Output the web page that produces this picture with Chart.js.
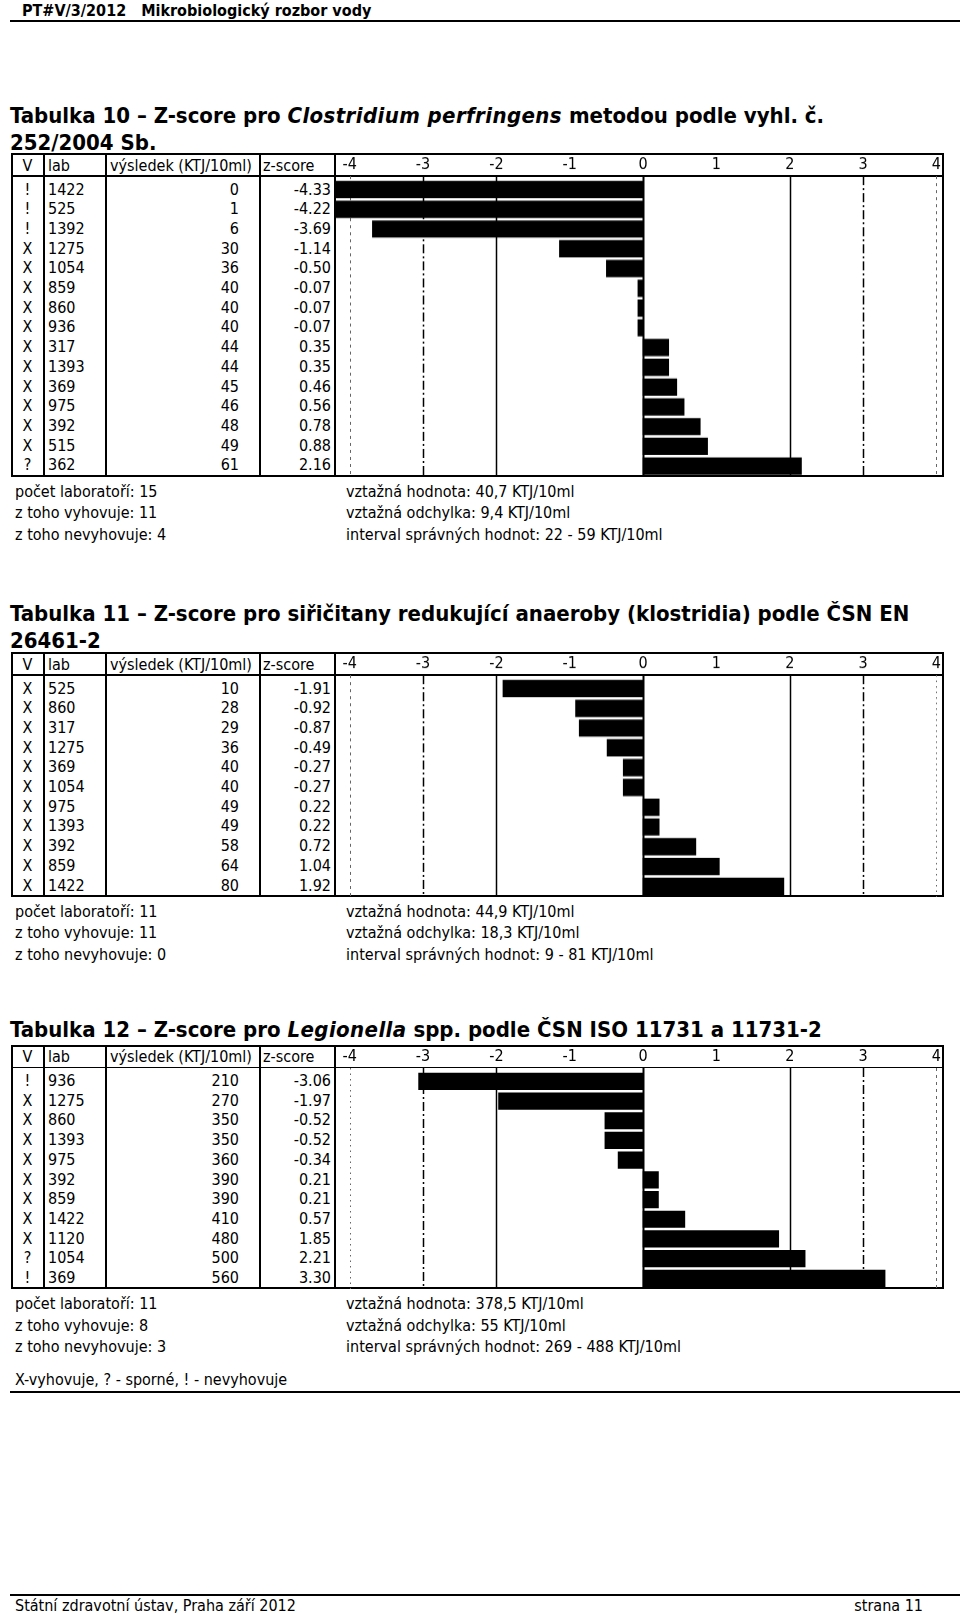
<!DOCTYPE html>
<html lang="cs">
<head>
<meta charset="UTF-8">
<title>PT#V/3/2012 Mikrobiologický rozbor vody</title>
<script src="https://cdn.jsdelivr.net/npm/chart.js"></script>
<style>
    body {
        margin: 0;
        width: 960px;
        height: 1615px;
        position: relative;
        background: #fff;
        color: #000;
        font-family: "DejaVu Sans Condensed", "DejaVu Sans", sans-serif;
        font-size: 16px;
    }
    .abs { position: absolute; white-space: nowrap; }
    .hdr { font-weight: bold; font-size: 16px; white-space: pre; }
    .title { font-weight: bold; font-size: 22px; line-height: 27px; }
    .title i { letter-spacing: 0.4px; }
    .rule { position: absolute; background: #000; }
    .box { position: absolute; box-sizing: border-box; border: 2px solid #000; }
</style>
</head>
<body>

<div class="abs hdr" style="left:22px; top:1px;">PT#V/3/2012   Mikrobiologický rozbor vody</div>
<div class="rule" style="left:10px; top:20px; width:950px; height:1.5px;"></div>

<div class="abs title" style="left:10px; top:102px;">Tabulka 10 – Z-score pro <i>Clostridium perfringens</i> metodou podle vyhl. č.<br>252/2004 Sb.</div>
<div class="abs title" style="left:10px; top:600px;">Tabulka 11 – Z-score pro siřičitany redukující anaeroby (klostridia) podle ČSN EN<br>26461-2</div>
<div class="abs title" style="left:10px; top:1016px;">Tabulka 12 – Z-score pro <i>Legionella</i> spp. podle ČSN ISO 11731 a 11731-2</div>

<div class="abs" style="left:15px; top:1370px;">X-vyhovuje, ? - sporné, ! - nevyhovuje</div>
<div class="rule" style="left:10px; top:1391px; width:950px; height:2px;"></div>

<div class="rule" style="left:10px; top:1594px; width:950px; height:1.5px;"></div>
<div class="abs" style="left:15px; top:1596px;">Státní zdravotní ústav, Praha září 2012</div>
<div class="abs" style="right:37px; top:1596px;">strana 11</div>

<script>
    // Tabulka 10 - Clostridium perfringens
    const t10Status = ['!', '!', '!', 'X', 'X', 'X', 'X', 'X', 'X', 'X', 'X', 'X', 'X', 'X', '?'];
    const t10Labs = ['1422', '525', '1392', '1275', '1054', '859', '860', '936', '317', '1393', '369', '975', '392', '515', '362'];
    const t10Results = [0, 1, 6, 30, 36, 40, 40, 40, 44, 44, 45, 46, 48, 49, 61];
    const t10Z = [-4.33, -4.22, -3.69, -1.14, -0.50, -0.07, -0.07, -0.07, 0.35, 0.35, 0.46, 0.56, 0.78, 0.88, 2.16];
    const t10Left = ['počet laboratoří: 15', 'z toho vyhovuje: 11', 'z toho nevyhovuje: 4'];
    const t10Right = ['vztažná hodnota: 40,7 KTJ/10ml', 'vztažná odchylka: 9,4 KTJ/10ml', 'interval správných hodnot: 22 - 59 KTJ/10ml'];

    // Tabulka 11 - siřičitany redukující anaeroby
    const t11Status = ['X', 'X', 'X', 'X', 'X', 'X', 'X', 'X', 'X', 'X', 'X'];
    const t11Labs = ['525', '860', '317', '1275', '369', '1054', '975', '1393', '392', '859', '1422'];
    const t11Results = [10, 28, 29, 36, 40, 40, 49, 49, 58, 64, 80];
    const t11Z = [-1.91, -0.92, -0.87, -0.49, -0.27, -0.27, 0.22, 0.22, 0.72, 1.04, 1.92];
    const t11Left = ['počet laboratoří: 11', 'z toho vyhovuje: 11', 'z toho nevyhovuje: 0'];
    const t11Right = ['vztažná hodnota: 44,9 KTJ/10ml', 'vztažná odchylka: 18,3 KTJ/10ml', 'interval správných hodnot: 9 - 81 KTJ/10ml'];

    // Tabulka 12 - Legionella spp.
    const t12Status = ['!', 'X', 'X', 'X', 'X', 'X', 'X', 'X', 'X', '?', '!'];
    const t12Labs = ['936', '1275', '860', '1393', '975', '392', '859', '1422', '1120', '1054', '369'];
    const t12Results = [210, 270, 350, 350, 360, 390, 390, 410, 480, 500, 560];
    const t12Z = [-3.06, -1.97, -0.52, -0.52, -0.34, 0.21, 0.21, 0.57, 1.85, 2.21, 3.30];
    const t12Left = ['počet laboratoří: 11', 'z toho vyhovuje: 8', 'z toho nevyhovuje: 3'];
    const t12Right = ['vztažná hodnota: 378,5 KTJ/10ml', 'vztažná odchylka: 55 KTJ/10ml', 'interval správných hodnot: 269 - 488 KTJ/10ml'];

    const zTicks = [-4, -3, -2, -1, 0, 1, 2, 3, 4];

    const FONT = '"DejaVu Sans Condensed", "DejaVu Sans", sans-serif';
    Chart.defaults.font.family = FONT;
    Chart.defaults.font.size = 16;
    Chart.defaults.color = '#000';

    // rozmery tabulky
    const HEAD = 23, ROW = 19.7, PAD_T = 3.5, PAD_B = 1.5;
    const X = [11, 44, 106, 260, 335, 944];

    function put(cls, text, css) {
        const d = document.createElement('div');
        d.className = cls;
        d.textContent = text;
        Object.assign(d.style, css);
        document.body.appendChild(d);
        return d;
    }

    // svisle cary v grafu (0, +-2, +-3, +-4)
    const zLines = {
        id: 'zLines',
        beforeDatasetsDraw(chart, args, opts) {
            const {ctx, chartArea: a} = chart;
            const x = chart.scales.x;
            ctx.save();
            opts.lines.forEach(l => {
                const px = Math.round(x.getPixelForValue(l.value)) + 0.5;
                ctx.beginPath();
                ctx.setLineDash(l.dash);
                ctx.lineWidth = l.width;
                ctx.strokeStyle = l.color;
                ctx.moveTo(px, a.top);
                ctx.lineTo(px, a.bottom);
                ctx.stroke();
            });
            ctx.restore();
        }
    };

    function lineStyle(v, edgeDash) {
        if (v === 0) return {value: v, dash: [], width: 2, color: '#000'};
        if (Math.abs(v) === 2) return {value: v, dash: [], width: 1.5, color: '#000'};
        if (Math.abs(v) === 3) return {value: v, dash: [9, 3, 2, 3], width: 1.5, color: '#000'};
        const d = v < 0 ? edgeDash[0] : edgeDash[1];
        return {value: v, dash: d === 'dot' ? [1.5, 4] : [3, 4], width: 1, color: '#666'};
    }

    function zTable(top, status, labs, results, z, left, right, edgeDash) {
        const n = labs.length;
        const h = HEAD + PAD_T + PAD_B + n * ROW;
        const w = X[5] - X[0];

        put('box', '', {left: X[0] + 'px', top: top + 'px', width: w + 'px', height: h + 'px'});
        put('rule', '', {left: X[0] + 'px', top: (top + HEAD - 0.75) + 'px', width: w + 'px', height: '1.5px'});
        for (let k = 1; k < 5; k++) {
            put('rule', '', {left: (X[k] - 0.75) + 'px', top: top + 'px', width: '1.5px', height: h + 'px'});
        }

        // hlavicka
        const hy = top + 1.5;
        const lh = (HEAD - 1) + 'px';
        put('abs', 'V', {left: X[0] + 'px', width: (X[1] - X[0]) + 'px', textAlign: 'center', top: hy + 'px', lineHeight: lh});
        put('abs', 'lab', {left: (X[1] + 4) + 'px', top: hy + 'px', lineHeight: lh});
        put('abs', 'výsledek (KTJ/10ml)', {left: (X[2] + 4) + 'px', top: hy + 'px', lineHeight: lh});
        put('abs', 'z-score', {left: (X[3] + 3) + 'px', top: hy + 'px', lineHeight: lh});

        // radky
        for (let i = 0; i < n; i++) {
            const y = top + HEAD + PAD_T + i * ROW;
            const css = {top: y + 'px', lineHeight: ROW + 'px'};
            put('abs', status[i], Object.assign({left: X[0] + 'px', width: (X[1] - X[0]) + 'px', textAlign: 'center'}, css));
            put('abs', labs[i], Object.assign({left: (X[1] + 4) + 'px'}, css));
            put('abs', String(results[i]), Object.assign({right: (960 - X[3] + 21) + 'px'}, css));
            put('abs', z[i].toFixed(2), Object.assign({right: (960 - X[4] + 4) + 'px'}, css));
        }

        // statistika pod tabulkou
        for (let i = 0; i < 3; i++) {
            const y = top + h + 4 + i * 21.5;
            put('abs', left[i], {left: '15px', top: y + 'px', lineHeight: '21.5px'});
            put('abs', right[i], {left: '346px', top: y + 'px', lineHeight: '21.5px'});
        }

        // graf
        const wrap = put('abs', '', {left: X[4] + 'px', top: top + 'px', width: (X[5] - X[4] - 1) + 'px', height: h + 'px'});
        const cv = document.createElement('canvas');
        wrap.appendChild(cv);

        new Chart(cv, {
            type: 'bar',
            data: {
                datasets: [{
                    data: z.map((v, i) => ({x: v, y: i})),
                    backgroundColor: '#000',
                    borderWidth: 0,
                    barThickness: 16.5,
                    clip: 0
                }]
            },
            options: {
                indexAxis: 'y',
                responsive: true,
                maintainAspectRatio: false,
                animation: false,
                layout: {padding: 0},
                plugins: {
                    legend: {display: false},
                    tooltip: {enabled: false},
                    zLines: {lines: zTicks.filter(v => Math.abs(v) !== 1).map(v => lineStyle(v, edgeDash))}
                },
                scales: {
                    x: {
                        type: 'linear',
                        position: 'top',
                        min: -4.2,
                        max: 4.03,
                        afterBuildTicks: s => { s.ticks = zTicks.map(v => ({value: v})); },
                        afterFit: s => { s.height = HEAD; },
                        ticks: {padding: 2, color: '#000', maxRotation: 0, autoSkip: false},
                        grid: {display: false, drawTicks: false},
                        border: {display: false}
                    },
                    y: {
                        type: 'linear',
                        display: false,
                        reverse: true,
                        offset: false,
                        min: -0.5 - PAD_T / ROW,
                        max: n - 0.5 + PAD_B / ROW
                    }
                }
            },
            plugins: [zLines]
        });
    }

    zTable(153, t10Status, t10Labs, t10Results, t10Z, t10Left, t10Right, ['dash', 'dash']);
    zTable(652, t11Status, t11Labs, t11Results, t11Z, t11Left, t11Right, ['dash', 'dot']);
    zTable(1044.5, t12Status, t12Labs, t12Results, t12Z, t12Left, t12Right, ['dot', 'dash']);
</script>
</body>
</html>
